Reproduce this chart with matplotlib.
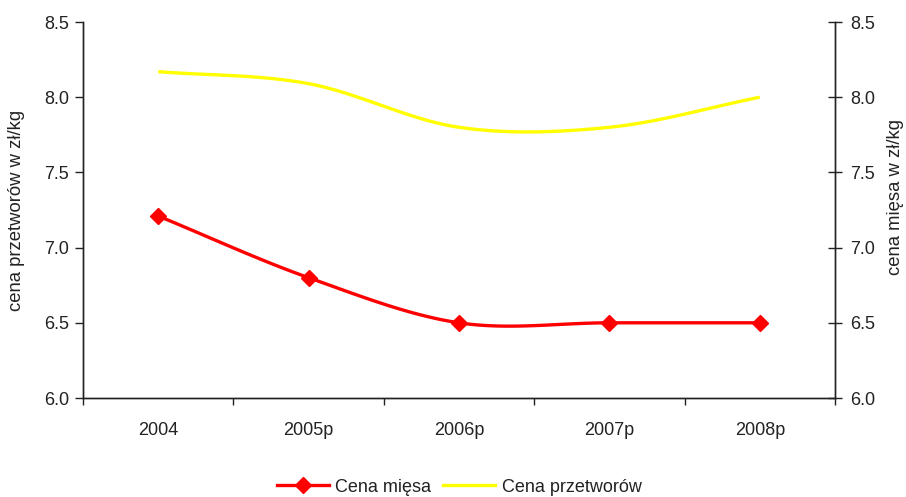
import numpy as np
import matplotlib
matplotlib.use("Agg")
import matplotlib.pyplot as plt
from matplotlib.lines import Line2D

plt.rcParams['font.family'] = ['Liberation Sans', 'DejaVu Sans']

years = ["2004", "2005p", "2006p", "2007p", "2008p"]
cena_miesa = [7.21, 6.80, 6.50, 6.50, 6.50]
cena_przetworow = [8.17, 8.09, 7.80, 7.80, 8.00]
y_ticks = [6.0, 6.5, 7.0, 7.5, 8.0, 8.5]


def smooth(values, steps=30):
    """Catmull-Rom curve through the points (Excel-style smoothed line)."""
    v = np.asarray(values, dtype=float)
    n = len(v)
    xs, ys = [], []
    for i in range(n - 1):
        p0 = v[i - 1] if i > 0 else v[i]
        p3 = v[i + 2] if i + 2 < n else v[i + 1]
        p1, p2 = v[i], v[i + 1]
        m1 = (p2 - p0) / 2 if i > 0 else (p2 - p1)
        m2 = (p3 - p1) / 2 if i + 2 < n else (p2 - p1)
        t = np.linspace(0, 1, steps, endpoint=(i == n - 2))
        h00 = 2 * t**3 - 3 * t**2 + 1
        h10 = t**3 - 2 * t**2 + t
        h01 = -2 * t**3 + 3 * t**2
        h11 = t**3 - t**2
        xs.append(i + t)
        ys.append(h00 * p1 + h10 * m1 + h01 * p2 + h11 * m2)
    return np.concatenate(xs), np.concatenate(ys)


fig = plt.figure(figsize=(9.06, 4.97), dpi=100)
ax = fig.add_axes([83 / 906, 1 - 398 / 497, (835 - 83) / 906, (398 - 22) / 497])
ax2 = ax.twinx()

FS = 13
TXT = "#222222"
x = np.arange(len(years))

xs, ys = smooth(cena_przetworow)
ax.plot(xs, ys, color="#FFFF00", lw=2.4, solid_capstyle="butt", zorder=3)

xs, ys = smooth(cena_miesa)
ax2.plot(xs, ys, color="#FF0000", lw=2.4, solid_capstyle="butt", zorder=3)
ax2.plot(x, cena_miesa, ls="none", marker="D", ms=8, color="#FF0000", zorder=4)

for a in (ax, ax2):
    a.set_ylim(6.0, 8.5)
    a.set_yticks(y_ticks)
    a.set_yticklabels([f"{t:.1f}" for t in y_ticks], fontsize=FS, color=TXT)
    a.spines["top"].set_visible(False)
    for s in a.spines.values():
        s.set_linewidth(1.0)
        s.set_color(TXT)

ax.set_xlim(-0.5, len(years) - 0.5)
ax.set_xticks(x)
ax.set_xticklabels(years, fontsize=FS, color=TXT)
ax.tick_params(axis="x", which="major", length=0, pad=17)
ax.set_xticks(np.arange(-0.5, len(years)), minor=True)
ax.tick_params(axis="x", which="minor", length=5, width=1, direction="out", color=TXT)
ax.tick_params(axis="y", length=6, width=1, direction="out", color=TXT, pad=4)
ax2.tick_params(axis="y", length=10, width=1, direction="inout", color=TXT, pad=6)

# axis titles
fig.text(17 / 906, 1 - 210 / 497, "cena przetworów w zł/kg", rotation=90,
         ha="center", va="center", fontsize=13.3, color=TXT)
fig.text(896 / 906, 1 - 197 / 497, "cena mięsa w zł/kg", rotation=90,
         ha="center", va="center", fontsize=13.3, color=TXT)

handles = [
    Line2D([], [], color="#FF0000", lw=2.4, marker="D", ms=8),
    Line2D([], [], color="#FFFF00", lw=2.4),
]
fig.legend(handles, ["Cena mięsa", "Cena przetworów"], loc="center",
           bbox_to_anchor=(459 / 906, 1 - 487 / 497), ncol=2, frameon=False,
           fontsize=FS, handlelength=2.9, handletextpad=0.35, columnspacing=0.65,
           labelcolor=TXT)

fig.savefig("out.png", dpi=100)
